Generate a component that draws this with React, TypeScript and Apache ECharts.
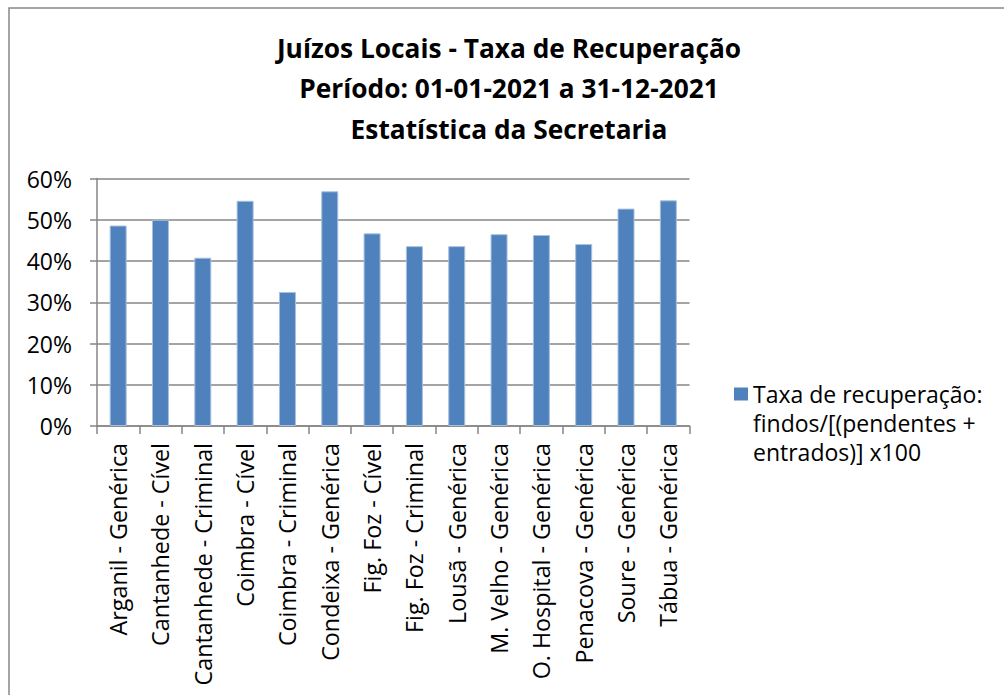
import React, { useEffect, useRef } from "react";
import * as echarts from "echarts";

const categories = [
  "Arganil - Genérica",
  "Cantanhede - Cível",
  "Cantanhede - Criminal",
  "Coimbra - Cível",
  "Coimbra - Criminal",
  "Condeixa - Genérica",
  "Fig. Foz - Cível",
  "Fig. Foz - Criminal",
  "Lousã - Genérica",
  "M. Velho - Genérica",
  "O. Hospital - Genérica",
  "Penacova - Genérica",
  "Soure - Genérica",
  "Tábua - Genérica",
];

const recoveryRate = [48.6, 50.0, 40.8, 54.6, 32.5, 56.9, 46.7, 43.6, 43.6, 46.5, 46.3, 44.1, 52.7, 54.7];

const seriesName = "Taxa de recuperação: findos/[(pendentes + entrados)] x100";
const legendLines = ["Taxa de recuperação:", "findos/[(pendentes +", "entrados)] x100"];
const titleLines = [
  "Juízos Locais - Taxa de Recuperação",
  "Período: 01-01-2021 a 31-12-2021",
  "Estatística da Secretaria",
];

const FONT = "'Open Sans', Lato, sans-serif";

export default function App() {
  const ref = useRef<HTMLDivElement>(null);
  useEffect(() => {
    if (!ref.current) return;
    const chart = echarts.init(ref.current, undefined, { renderer: "svg" });
    const legendLineH = 29;
    const legendH = legendLineH * legendLines.length;
    const iconTop = legendLineH / 2 - 6.5;
    const iconPath =
      "path://M0,0L0,0.01 M0," + iconTop + "H14V" + (iconTop + 13) + "H0Z M14," + legendH + "L14," + (legendH - 0.01);
    chart.setOption({
      animation: false,
      backgroundColor: "#ffffff",
      title: {
        text: titleLines.join("\n"),
        left: 509,
        textAlign: "center",
        top: 27.5,
        padding: 0,
        textStyle: {
          fontFamily: FONT,
          fontWeight: "bold",
          fontSize: 26.3,
          lineHeight: 40.5,
          color: "#000",
        },
      },
      graphic: [
        {
          type: "rect",
          shape: { x: 9, y: 8, width: 1200, height: 900 },
          style: { fill: "none", stroke: "#888888", lineWidth: 1.5 },
          silent: true,
        },
      ],
      legend: {
        left: 734,
        top: 379.5,
        padding: 0,
        icon: iconPath,
        itemWidth: 14,
        itemHeight: legendH,
        itemStyle: { borderWidth: 0 },
        formatter: () => legendLines.join("\n"),
        textStyle: {
          fontFamily: FONT,
          fontSize: 23,
          lineHeight: legendLineH,
          color: "#000",
        },
      },
      grid: {
        left: 97,
        top: 178.5,
        right: 314.5,
        bottom: 269,
        containLabel: false,
      },
      xAxis: {
        type: "category",
        data: categories,
        axisLine: { show: true, lineStyle: { color: "#868686", width: 1.5 } },
        axisTick: { show: true, alignWithLabel: false, length: 8, lineStyle: { color: "#868686", width: 1.5 } },
        axisLabel: {
          rotate: 90,
          interval: 0,
          margin: 17,
          fontFamily: FONT,
          fontSize: 23.3,
          color: "#000",
        },
      },
      yAxis: {
        type: "value",
        min: 0,
        max: 60,
        interval: 10,
        axisLine: { show: true, lineStyle: { color: "#868686", width: 1.5 } },
        axisTick: { show: true, length: 7, lineStyle: { color: "#868686", width: 1.5 } },
        splitLine: { show: true, lineStyle: { color: "#868686", width: 1.5 } },
        axisLabel: {
          formatter: "{value}%",
          margin: 25,
          fontFamily: FONT,
          fontSize: 23,
          color: "#000",
        },
      },
      series: [
        {
          name: seriesName,
          type: "bar",
          data: recoveryRate,
          barWidth: 17,
          itemStyle: { color: "#4F81BD", borderColor: "#A7C0DE", borderWidth: 1 },
        },
      ],
    });
    return () => chart.dispose();
  }, []);
  return (
    <div
      ref={ref}
      style={{ position: "fixed", left: 0, top: 0, width: 1004, height: 695 }}
    />
  );
}
